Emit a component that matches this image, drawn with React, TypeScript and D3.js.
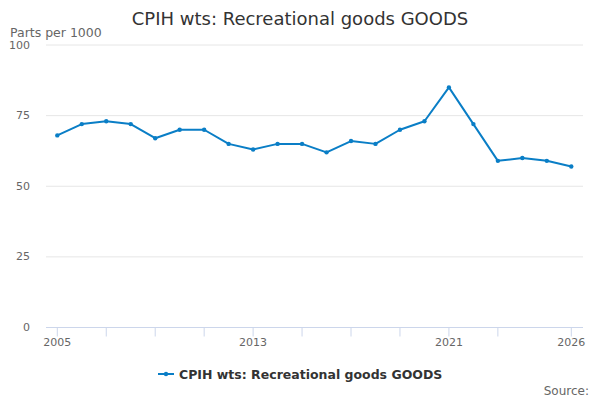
import { line, scaleLinear } from 'd3'

const years = [
  2005, 2006, 2007, 2008, 2009, 2010, 2011, 2012, 2013, 2014, 2015,
  2016, 2017, 2018, 2019, 2020, 2021, 2022, 2023, 2024, 2025, 2026,
]
const weights = [68, 72, 73, 72, 67, 70, 70, 65, 63, 65, 65, 62, 66, 65, 70, 73, 85, 72, 59, 60, 59, 57]
const yTicks = [0, 25, 50, 75, 100]
const xTicks = [2005, 2007, 2009, 2011, 2013, 2015, 2017, 2019, 2021, 2023, 2026]
const xLabels = [2005, 2013, 2021, 2026]

const width = 600
const height = 400
const plotLeft = 46
const plotRight = 583
const seriesColor = '#0a7ec6'
const fontFamily = '"DejaVu Sans", sans-serif'

function App() {
  const xScale = scaleLinear().domain([2005, 2026]).range([57.3, 571.3])
  const yScale = scaleLinear().domain([0, 100]).range([327.5, 45])

  const path = line<number>()
    .x((_, i) => xScale(years[i]))
    .y((d) => yScale(d))(weights)

  return (
    <svg
      width={width}
      height={height}
      style={{ position: 'absolute', left: 0, top: 0, fontFamily }}
    >
      <rect width={width} height={height} fill="#fff" />
      <text x={300} y={25} textAnchor="middle" fontSize={18} fill="#333">
        CPIH wts: Recreational goods GOODS
      </text>
      <text x={10} y={37} fontSize={12.5} fill="#666">
        Parts per 1000
      </text>

      {yTicks.map((tick) => (
        <g key={tick}>
          {tick > 0 && (
            <line
              x1={plotLeft}
              x2={plotRight}
              y1={yScale(tick)}
              y2={yScale(tick)}
              stroke="#e6e6e6"
            />
          )}
          <text
            x={30}
            y={yScale(tick)}
            dy="0.32em"
            textAnchor="end"
            fontSize={11}
            fill="#666"
          >
            {tick}
          </text>
        </g>
      ))}

      <line x1={plotLeft} x2={plotRight} y1={327.5} y2={327.5} stroke="#ccd6eb" />
      {xTicks.map((tick) => (
        <line
          key={tick}
          x1={xScale(tick)}
          x2={xScale(tick)}
          y1={327.5}
          y2={336.5}
          stroke="#ccd6eb"
        />
      ))}
      {xLabels.map((tick) => (
        <text
          key={tick}
          x={xScale(tick)}
          y={346}
          textAnchor="middle"
          fontSize={11}
          fill="#666"
        >
          {tick}
        </text>
      ))}

      <path d={path ?? ''} fill="none" stroke={seriesColor} strokeWidth={2} strokeLinejoin="round" />
      {weights.map((d, i) => (
        <circle key={years[i]} cx={xScale(years[i])} cy={yScale(d)} r={2.2} fill={seriesColor} />
      ))}

      <line x1={158} x2={174} y1={374} y2={374} stroke={seriesColor} strokeWidth={2} />
      <circle cx={166} cy={374} r={2.2} fill={seriesColor} />
      <text x={179} y={378.5} fontSize={12.5} fontWeight="bold" fill="#333">
        CPIH wts: Recreational goods GOODS
      </text>

      <text x={589} y={395} textAnchor="end" fontSize={12} fill="#666">
        Source:
      </text>
    </svg>
  )
}

export default App
